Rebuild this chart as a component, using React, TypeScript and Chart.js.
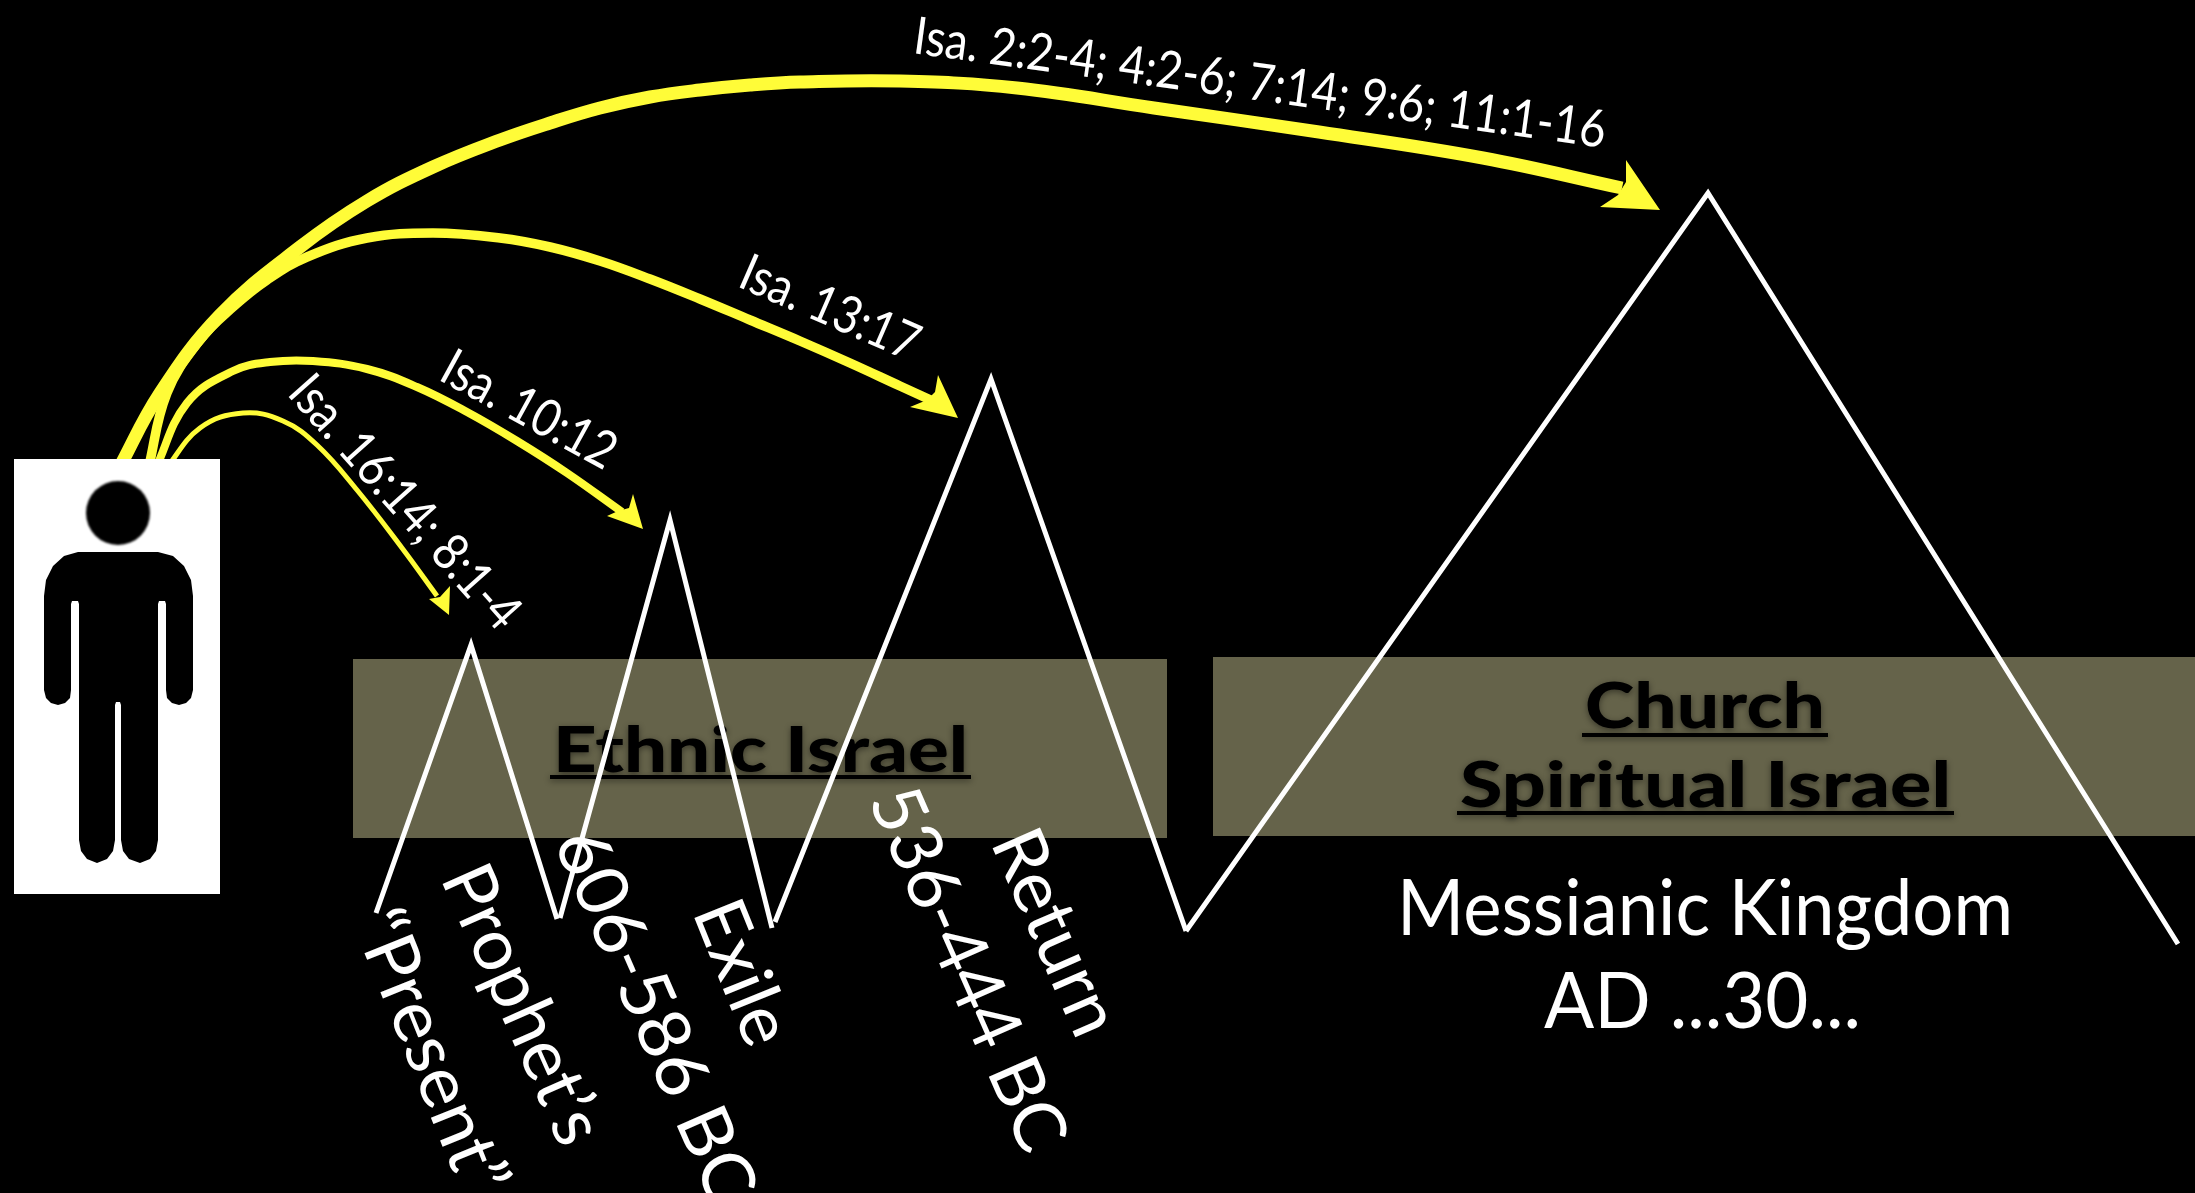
import React, { useEffect, useRef } from "react";
import { Chart, registerables } from "chart.js";

Chart.register(...registerables);

type P = { x: number; y: number };
const pts = (a: number[][]): P[] => a.map(([x, y]) => ({ x, y }));

const ethnicBox = [[353, 659], [1167, 659], [1167, 838], [353, 838]];
const churchBox = [[1213, 657], [2195, 657], [2195, 836], [1213, 836]];
const personBox = [[14, 459], [220, 459], [220, 894], [14, 894]];
const personHead = [[118, 513]];
const personBody = [
  [78, 552], [64, 556], [53, 566], [46, 580], [44, 596], [44, 690], [46, 698], [51, 703], [58, 705], [65, 703], [70, 698], [71, 690],
  [71, 604], [72, 601], [78, 601], [79, 604], [79, 840], [81, 851], [87, 859], [97, 863], [107, 859], [113, 851], [115, 840],
  [115, 705], [116, 702], [120, 702], [121, 705], [121, 840], [123, 851], [129, 859], [140, 863], [150, 859], [156, 851], [158, 840],
  [158, 604], [159, 601], [165, 601], [166, 604], [166, 690], [167, 698], [172, 703], [179, 705], [186, 703], [191, 698], [193, 690],
  [193, 596], [191, 580], [184, 566], [173, 556], [158, 552],
];

const peak1 = [[376, 913], [471, 645], [557, 919]];
const peak2 = [[560, 918], [670, 520], [772, 928]];
const peak3 = [[775, 922], [991, 379], [1186, 931]];
const peak4 = [[1186, 931], [1708, 193], [2178, 944]];

const arcTop = [[118, 470], [160, 393], [220, 315], [300, 247], [367, 201], [433, 167], [500, 140], [550, 123], [600, 108], [650, 97], [700, 90], [750, 85], [800, 82], [900, 81], [1017, 88], [1154, 108], [1319, 132], [1483, 158], [1622, 188]];
const arcSecond = [[148, 470], [167, 393], [200, 340], [233, 307], [267, 280], [307, 257], [367, 238], [433, 233], [500, 238], [550, 247], [600, 261], [650, 279], [700, 299], [750, 320], [800, 341], [850, 363], [900, 386], [935, 402]];
const arcThird = [[155, 470], [187, 403], [233, 371], [270, 362], [313, 361], [367, 369], [417, 387], [467, 412], [517, 441], [567, 473], [622, 512]];
const arcFourth = [[165, 470], [200, 428], [243, 413], [283, 421], [317, 445], [357, 490], [402, 548], [437, 596]];

const headTop = [[1660, 210], [1626, 160], [1626, 182], [1618, 195], [1600, 207]];
const headSecond = [[958, 418], [938, 375], [935, 392], [927, 400], [910, 407]];
const headThird = [[643, 529], [633, 494], [629, 508], [618, 511], [607, 516]];
const headFourth = [[449, 615], [450, 586], [440, 597], [429, 599]];

const yellow = "#fffc38";
const olive = "#65634a";

const boxLabels = ["Ethnic Israel", "Church", "Spiritual Israel"];
const boxLabelPlace = [[553, 968, 772, 777], [1585, 1825, 728, 735], [1460, 1951, 807, 813]];
const slantLabels = [
  "Isa. 2:2-4; 4:2-6; 7:14; 9:6; 11:1-16",
  "Isa. 13:17",
  "Isa. 10:12",
  "Isa. 16:14; 8:1-4",
  "“Present”",
  "Prophet’s",
  "606-586 BC",
  "Exile",
  "536-444 BC",
  "Return",
];
// x, y of baseline start, angle in degrees, font size, fitted length
const slantPlace = [
  [912, 53, 7.8, 52, 698],
  [736, 286, 23.5, 52, 190],
  [437, 379, 28.7, 52, 191],
  [286, 394, 48.4, 52, 320],
  [352, 922, 68, 72, 300],
  [440, 878, 66, 72, 298],
  [553, 842, 66.4, 72, 400],
  [692, 912, 68, 72, 150],
  [868, 800, 66.4, 72, 390],
  [990, 842, 66.4, 72, 218],
];
const plainLabels = ["Messianic Kingdom", "AD ...30..."];
const plainPlace = [[1397, 935, 616], [1544, 1028, 317]];

const FONT = "Lato";

const fitText = (ctx: any, t: string, x: number, y: number, len: number) => {
  const w = ctx.measureText(t).width;
  ctx.save();
  ctx.translate(x, y);
  ctx.scale(len / w, 1);
  ctx.fillText(t, 0, 0);
  ctx.restore();
};

const BLUR_FROM = 15;

const textPlugin = {
  id: "diagramText",
  beforeDatasetDraw(chart: any, args: any) {
    if (args.index >= BLUR_FROM) {
      chart.ctx.save();
      chart.ctx.filter = "blur(1.2px)";
    }
  },
  afterDatasetDraw(chart: any, args: any) {
    if (args.index >= BLUR_FROM) chart.ctx.restore();
    if (args.index !== 1) return;
    const { ctx, scales } = chart;
    const X = (v: number) => scales.x.getPixelForValue(v);
    const Y = (v: number) => scales.y.getPixelForValue(v);
    ctx.save();
    ctx.fillStyle = "#000";
    ctx.shadowColor = "rgba(0,0,0,0.45)";
    ctx.shadowBlur = 6;
    ctx.shadowOffsetY = 2;
    ctx.textBaseline = "alphabetic";
    ctx.textAlign = "left";
    ctx.font = `900 62px ${FONT}`;
    boxLabels.forEach((t, i) => {
      const [x0, x1, base, ul] = boxLabelPlace[i];
      fitText(ctx, t, X(x0), Y(base), X(x1) - X(x0));
      ctx.fillRect(X(x0) - 3, Y(ul) - 2, X(x1) - X(x0) + 6, 4);
    });
    ctx.restore();
  },
  afterDatasetsDraw(chart: any) {
    const { ctx, scales } = chart;
    const X = (v: number) => scales.x.getPixelForValue(v);
    const Y = (v: number) => scales.y.getPixelForValue(v);
    ctx.save();
    ctx.fillStyle = "#fff";
    ctx.textBaseline = "alphabetic";
    ctx.textAlign = "left";
    slantLabels.forEach((t, i) => {
      const [x, y, a, size, len] = slantPlace[i];
      ctx.save();
      ctx.translate(X(x), Y(y));
      ctx.rotate((a * Math.PI) / 180);
      ctx.font = `400 ${size}px ${FONT}`;
      fitText(ctx, t, 0, 0, len);
      ctx.restore();
    });
    ctx.font = `400 78px ${FONT}`;
    plainLabels.forEach((t, i) => {
      const [x, y, len] = plainPlace[i];
      fitText(ctx, t, X(x), Y(y), len);
    });
    ctx.restore();
  },
};

const poly = (d: number[][], color: string) => ({
  data: pts(d),
  showLine: true,
  fill: "shape",
  backgroundColor: color,
  borderWidth: 0,
  borderColor: color,
  pointRadius: 0,
  tension: 0,
});
const stroke = (d: number[][], color: string, w: number, tension = 0) => ({
  data: pts(d),
  showLine: true,
  fill: false,
  borderColor: color,
  borderWidth: w,
  borderJoinStyle: "miter",
  borderCapStyle: "butt",
  pointRadius: 0,
  tension,
});

export default function App() {
  const ref = useRef<HTMLCanvasElement>(null);
  useEffect(() => {
    document.body.style.margin = "0";
    document.body.style.background = "#000";
    const list: any[] = [
      poly(ethnicBox, olive),
      poly(churchBox, olive),
      stroke(peak1, "#fff", 5),
      stroke(peak2, "#fff", 5),
      stroke(peak3, "#fff", 5),
      stroke(peak4, "#fff", 5),
      stroke(arcTop, yellow, 13, 0.4),
      stroke(arcSecond, yellow, 9.5, 0.4),
      stroke(arcThird, yellow, 8, 0.4),
      stroke(arcFourth, yellow, 5, 0.4),
      poly(headTop, yellow),
      poly(headSecond, yellow),
      poly(headThird, yellow),
      poly(headFourth, yellow),
      poly(personBox, "#fff"),
      poly(personBody, "#000"),
      { data: pts(personHead), showLine: false, pointRadius: 32, pointBackgroundColor: "#000", pointBorderWidth: 0 },
    ];
    const n = list.length;
    list.forEach((d, i) => (d.order = n - i));
    const chart = new Chart(ref.current!, {
      type: "scatter",
      data: { datasets: list },
      options: {
        animation: false,
        responsive: false,
        events: [],
        layout: { padding: 0, autoPadding: false },
        plugins: { legend: { display: false }, tooltip: { enabled: false } },
        scales: {
          x: { type: "linear", min: 0, max: 2195, display: false },
          y: { type: "linear", min: 0, max: 1193, reverse: true, display: false },
        },
      },
      plugins: [textPlugin],
    } as any);
    return () => chart.destroy();
  }, []);
  return <canvas ref={ref} width={2195} height={1193} style={{ display: "block", background: "#000" }} />;
}
